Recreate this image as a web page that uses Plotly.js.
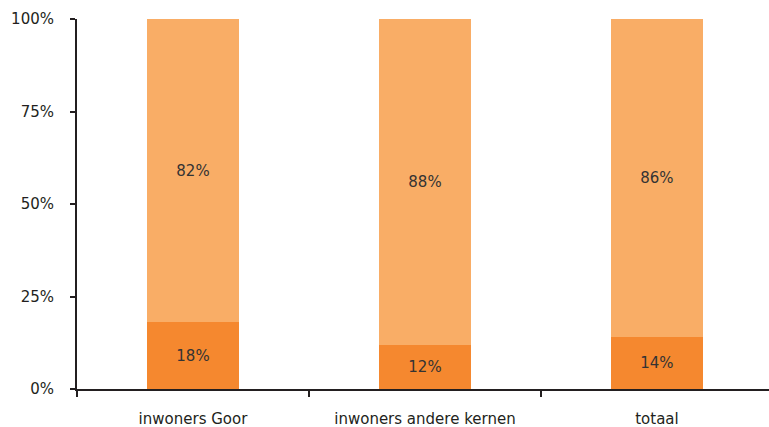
<!DOCTYPE html>
<html>
<head>
<meta charset="utf-8">
<script src="https://cdn.plot.ly/plotly-3.0.1.min.js"></script>
<style>html,body{margin:0;padding:0;background:#fff;}#chart{width:769px;height:427px;}</style>
</head>
<body>
<div id="chart"></div>
<script>
const categories = ["inwoners Goor", "inwoners andere kernen", "totaal"];
const darkValues = [18, 12, 14];
const lightValues = [82, 88, 86];
const yTickValues = [0, 25, 50, 75, 100];
const yTickLabels = ["0%", "25%", "50%", "75%", "100%"];

const font = {family: "DejaVu Sans, sans-serif", size: 15, color: "#231f20"};
const traces = [
  {type: "bar", x: categories, y: darkValues, marker: {color: "#f5882f"},
   text: darkValues.map(v => v + "%"), textposition: "inside", insidetextanchor: "middle",
   textfont: {family: font.family, size: 15, color: "#333333"}, hoverinfo: "none"},
  {type: "bar", x: categories, y: lightValues, marker: {color: "#f9ad66"},
   text: lightValues.map(v => v + "%"), textposition: "inside", insidetextanchor: "middle",
   textfont: {family: font.family, size: 15, color: "#333333"}, hoverinfo: "none"}
];
const layout = {
  width: 769, height: 427,
  margin: {l: 77, r: 0, t: 19, b: 38, pad: 0},
  barmode: "stack", bargap: 0.6, showlegend: false,
  paper_bgcolor: "#fff", plot_bgcolor: "#fff",
  font: font,
  xaxis: {type: "category", range: [-0.5, 2.483], showline: true, linecolor: "#231f20", linewidth: 2,
          ticks: "outside", tickson: "boundaries", ticklen: 6, tickwidth: 2, tickcolor: "#231f20",
          showgrid: false, zeroline: false, ticklabelstandoff: 15, tickfont: font},
  yaxis: {range: [0, 100], tickvals: yTickValues, ticktext: yTickLabels, showline: true,
          linecolor: "#231f20", linewidth: 2, ticks: "outside", ticklen: 5, tickwidth: 2,
          tickcolor: "#231f20", showgrid: false, zeroline: false, ticklabelstandoff: 13, tickfont: font}
};
Plotly.newPlot("chart", traces, layout, {displayModeBar: false, staticPlot: true});
</script>
</body>
</html>
